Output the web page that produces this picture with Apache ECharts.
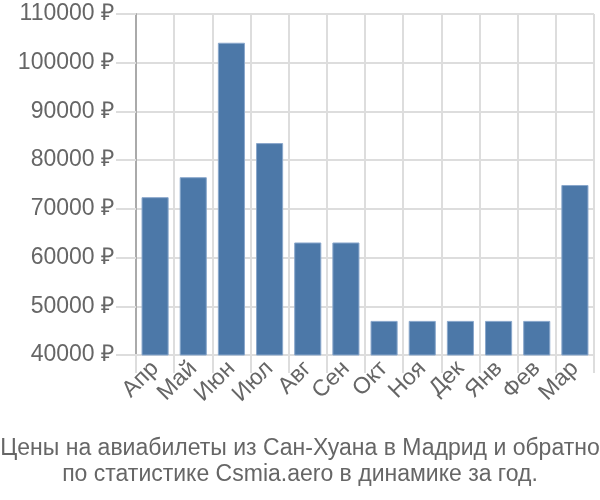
<!DOCTYPE html>
<html><head><meta charset="utf-8">
<script src="https://cdn.jsdelivr.net/npm/echarts@6/dist/echarts.min.js"></script>
<style>html,body{margin:0;padding:0;background:#fff}#c{width:600px;height:500px}</style>
</head><body><div id="c"></div>
<script>
const categories = ['Апр','Май','Июн','Июл','Авг','Сен','Окт','Ноя','Дек','Янв','Фев','Мар'];
const prices = [72400, 76500, 104100, 83500, 63100, 63100, 47000, 47000, 47000, 47000, 47000, 74900];
const titleLines = ['Цены на авиабилеты из Сан-Хуана в Мадрид и обратно', 'по статистике Csmia.aero в динамике за год.'];

const chart = echarts.init(document.getElementById('c'));
chart.setOption({
  animation: false,
  title: {
    text: titleLines.join('\n'),
    left: 'center', top: 431,
    textStyle: {fontFamily: 'Liberation Sans, Arial', fontSize: 23, fontWeight: 'normal', color: '#666', lineHeight: 26}
  },
  grid: {left: 136, right: 6, top: 14, bottom: 145, containLabel: false},
  xAxis: {
    type: 'category', data: categories,
    axisLine: {show: true, lineStyle: {color: '#ddd', width: 2}},
    axisTick: {show: true, alignWithLabel: false, length: 18, lineStyle: {color: '#ddd', width: 2}},
    splitLine: {show: true, lineStyle: {color: '#ddd', width: 2}},
    axisLabel: {rotate: 45, fontFamily: 'Liberation Sans, Arial', fontSize: 23, color: '#666', margin: 10, interval: 0}
  },
  yAxis: {
    type: 'value', min: 40000, max: 110000, interval: 10000,
    axisLine: {show: true, lineStyle: {color: '#aaa', width: 2}},
    axisTick: {show: true, length: 20, lineStyle: {color: '#ddd', width: 2}},
    splitLine: {show: true, lineStyle: {color: '#ddd', width: 2}},
    axisLabel: {fontFamily: 'Liberation Sans, Arial', fontSize: 23, color: '#666', margin: 22, formatter: v => v + ' ₽'}
  },
  series: [{
    type: 'bar', data: prices, barWidth: '71%',
    itemStyle: {color: '#4c78a8', borderColor: '#8aa8cc', borderWidth: 1}
  }]
});
</script></body></html>
